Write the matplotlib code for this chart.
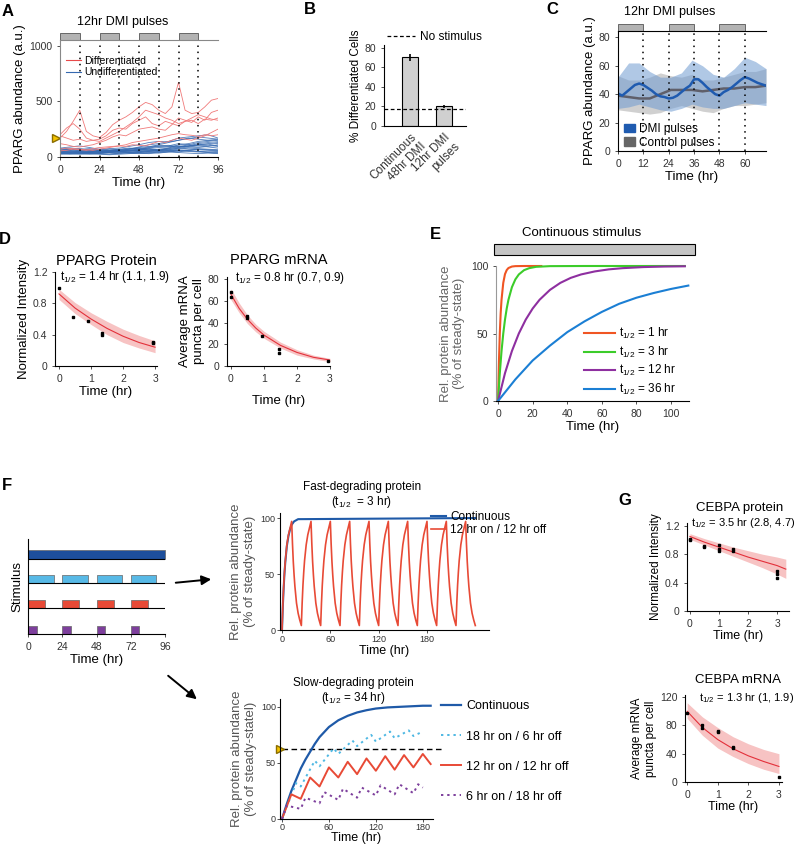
import matplotlib
matplotlib.use('Agg')
import matplotlib.pyplot as plt
from matplotlib.patches import Rectangle, FancyArrowPatch

plt.rcParams['font.family'] = ['Liberation Sans', 'DejaVu Sans']
plt.rcParams['mathtext.fontset'] = 'custom'
plt.rcParams['mathtext.rm'] = 'Liberation Sans'
plt.rcParams['axes.linewidth'] = 0.8
plt.rcParams['xtick.major.size'] = 2
plt.rcParams['ytick.major.size'] = 2

T12 = r'$\mathregular{t_{1/2}}$'

# ---- A: single-cell PPARG traces, 12hr DMI pulses ----
pulse_starts = [0, 24, 48, 72]
pulse_width = 12
a_dotted = [12, 24, 36, 48, 60, 72, 84]
a_red_t = list(range(0, 97, 4))
a_red = [
    [170, 230, 320, 420, 230, 190, 175, 220, 290, 330, 360, 400, 450, 490, 470, 420, 390, 450, 670, 420, 390, 400, 450, 510, 525],
    [190, 170, 150, 160, 140, 150, 160, 190, 240, 260, 250, 300, 330, 360, 300, 280, 320, 300, 280, 320, 330, 300, 340, 330, 350],
    [120, 110, 95, 90, 100, 110, 130, 150, 180, 200, 190, 220, 250, 260, 270, 250, 240, 290, 350, 330, 310, 360, 330, 400, 420],
    [70, 80, 75, 70, 65, 60, 70, 80, 90, 100, 110, 130, 140, 150, 160, 170, 185, 200, 210, 200, 195, 185, 200, 190, 200],
    [55, 60, 70, 65, 60, 75, 85, 90, 95, 100, 95, 110, 105, 100, 120, 140, 130, 150, 170, 160, 150, 170, 190, 220, 250],
    [200, 260, 300, 250, 170, 150, 140, 170, 200, 230, 270, 310, 360, 420, 400, 380, 350, 330, 300, 320, 350, 380, 360, 340, 330],
]
a_blue_t = list(range(0, 97, 6))
a_blue = [
    [60, 55, 50, 45, 55, 60, 70, 80, 75, 90, 110, 130, 150, 170, 160, 150, 140],
    [40, 35, 45, 40, 35, 40, 50, 60, 55, 60, 70, 80, 90, 100, 110, 120, 130],
    [70, 80, 75, 60, 50, 55, 60, 70, 90, 110, 120, 140, 170, 180, 190, 200, 170],
    [30, 25, 30, 35, 30, 25, 35, 40, 45, 40, 35, 45, 55, 60, 50, 45, 40],
    [50, 60, 70, 65, 55, 50, 45, 60, 70, 80, 95, 100, 120, 110, 100, 90, 80],
    [35, 40, 30, 25, 30, 40, 45, 35, 40, 50, 55, 50, 45, 60, 70, 65, 60],
    [80, 90, 100, 85, 70, 75, 80, 95, 110, 130, 140, 135, 150, 165, 180, 170, 160],
    [45, 50, 55, 60, 65, 55, 50, 45, 50, 55, 60, 70, 75, 70, 65, 60, 55],
    [25, 30, 35, 30, 25, 20, 25, 30, 35, 30, 40, 45, 40, 35, 30, 35, 30],
    [55, 45, 40, 50, 60, 70, 65, 55, 60, 75, 85, 90, 100, 95, 110, 115, 100],
    [40, 45, 50, 40, 35, 45, 55, 65, 70, 60, 55, 65, 80, 90, 85, 95, 110],
    [65, 70, 60, 55, 45, 40, 50, 55, 65, 85, 100, 95, 90, 110, 130, 140, 150],
    [30, 35, 40, 45, 50, 45, 40, 35, 30, 35, 45, 55, 60, 55, 50, 45, 50],
    [50, 55, 45, 35, 40, 50, 60, 70, 80, 70, 60, 75, 85, 100, 120, 130, 120],
    [35, 30, 25, 30, 40, 35, 30, 40, 50, 45, 50, 60, 55, 50, 45, 40, 35],
    [60, 65, 70, 75, 65, 60, 55, 50, 60, 70, 65, 60, 70, 80, 75, 70, 65],
    [45, 40, 35, 40, 45, 50, 55, 45, 40, 50, 60, 80, 110, 120, 140, 150, 160],
    [75, 65, 55, 50, 45, 55, 65, 75, 85, 95, 100, 105, 95, 90, 100, 105, 95],
]
a_threshold = 170

# ---- B: % differentiated ----
b_labels = ['Continuous\n48hr DMI', '12hr DMI\npulses']
b_values = [70.5, 20]
b_err = [3.5, 2]
b_no_stim = 17

# ---- C: population mean PPARG ----
c_t = list(range(0, 71, 2))
c_dmi = [40.5, 39, 41.5, 44, 46.5, 47.5, 46.5, 44.5, 42.5, 40, 38.5, 38, 37, 37.5, 39, 41.5, 44, 46,
         50.5, 50.5, 48, 45, 42.5, 40, 39, 41.5, 43, 45, 47.5, 50, 52, 51, 49.5, 48, 47, 46]
c_band_t = list(range(0, 71, 5))
c_dmi_hi = [52, 62, 62, 56, 52, 52, 55, 64, 60, 54, 52, 58, 66, 63, 58]
c_dmi_lo = [30, 31, 33, 31, 29, 28, 30, 33, 31, 30, 30, 32, 34, 33, 32]
c_ctrl = [39, 38, 37, 37, 40, 43, 43, 43, 42, 43, 44, 44, 45, 45, 46]
c_ctrl_hi = [53, 50, 50, 52, 55, 53, 52, 54, 50, 50, 52, 54, 56, 56, 58]
c_ctrl_lo = [29, 28, 27, 26, 27, 30, 32, 30, 28, 27, 30, 32, 32, 33, 34]
c_dotted = [12, 24, 36, 48, 60]

# ---- D / G: decay fits ----
dp_t = [0, 0.5, 1, 1.5, 2, 2.5, 3]
dp_fit = [0.92, 0.74, 0.60, 0.48, 0.38, 0.30, 0.24]
dp_hi = [0.98, 0.81, 0.68, 0.57, 0.47, 0.39, 0.32]
dp_lo = [0.85, 0.67, 0.53, 0.40, 0.30, 0.23, 0.17]
dp_pts_t = [0, 0.45, 0.9, 1.35, 1.35, 2.95, 2.95]
dp_pts = [1.0, 0.63, 0.57, 0.40, 0.42, 0.29, 0.31]

dm_t = [0, 0.25, 0.5, 0.75, 1, 1.5, 2, 2.5, 3]
dm_fit = [66, 53, 43, 35, 28.5, 19, 12.5, 8, 5.5]
dm_hi = [71, 58, 47, 38.5, 32, 22, 15, 10, 7]
dm_lo = [61, 49, 39, 31.5, 25.5, 16.5, 10, 6.5, 4]
dm_pts_t = [0, 0, 0.5, 0.5, 0.95, 1.45, 1.45, 2.95]
dm_pts = [68, 64, 46, 44, 28, 16, 12, 5]

gp_t = [0, 0.5, 1, 1.5, 2, 2.5, 3, 3.3]
gp_fit = [1.05, 0.97, 0.90, 0.83, 0.76, 0.70, 0.64, 0.59]
gp_hi = [1.09, 1.02, 0.96, 0.90, 0.85, 0.80, 0.76, 0.73]
gp_lo = [1.01, 0.93, 0.85, 0.77, 0.69, 0.61, 0.52, 0.46]
gp_pts_t = [0, 0, 0.5, 0.5, 1, 1, 1, 1.5, 1.5, 3, 3, 3]
gp_pts = [1.0, 1.02, 0.9, 0.92, 0.93, 0.88, 0.84, 0.87, 0.84, 0.56, 0.52, 0.46]

gm_t = [0, 0.5, 1, 1.5, 2, 2.5, 3]
gm_fit = [100, 77, 60, 47, 37, 29, 22]
gm_hi = [112, 92, 77, 64, 54, 46, 40]
gm_lo = [90, 66, 48, 36, 26, 18, 12]
gm_pts_t = [0, 0.5, 0.5, 1, 1, 1.5, 1.5, 3]
gm_pts = [98, 80, 77, 72, 70, 50, 48, 7]

# ---- E: continuous stimulus model ----
e_curves = [
    ('1 hr', '#f05523', [0, 0.5, 1, 1.5, 2, 3, 4, 5, 6, 8, 10, 15, 25],
     [0, 29, 50, 65, 75, 87.5, 94, 97, 98.5, 99.6, 99.9, 100, 100]),
    ('3 hr', '#3ccc2a', [0, 1, 2, 3, 4, 5, 6, 8, 10, 12, 15, 18, 22, 30, 50, 108],
     [0, 20.6, 37, 50, 60.3, 68.5, 75, 84.3, 90.1, 93.75, 96.9, 98.4, 99.4, 99.9, 100, 100]),
    ('12 hr', '#8e2fa0', [0, 4, 8, 12, 16, 20, 24, 30, 36, 42, 48, 56, 64, 72, 84, 96, 108],
     [0, 20.6, 37, 50, 60.3, 68.5, 75, 82.3, 87.5, 91.2, 93.75, 96, 97.5, 98.4, 99.2, 99.6, 99.8]),
    ('36 hr', '#1b7fd4', [0, 10, 20, 30, 40, 50, 60, 70, 80, 90, 100, 110],
     [0, 16, 30, 41, 51, 59, 66, 72, 76.5, 80, 83, 85.5]),
]

# ---- F: stimulus schematic ----
f_on_hours = [96, 18, 12, 6]
f_colors = ['#1d4f9c', '#58b9e6', '#e84a36', '#7d3f9c']

# fast-degrading (t1/2 = 3 hr)
fast_cont_t = [0, 1, 2, 3, 4, 6, 8, 10, 12, 15, 20, 240]
fast_cont = [0, 21, 37, 50, 60, 75, 84, 90, 94, 97, 99, 100]
fast_offsets = [0, 1, 2, 3, 4, 6, 8, 10, 12, 13, 14, 15, 16, 18, 20, 22]
fast_pulse_t = [c * 24 + o for c in range(10) for o in fast_offsets] + [240]
fast_pulse = [
    0, 22, 38, 51, 61, 76, 85, 91, 97, 77, 61, 49, 39, 24, 15, 9,
    4, 24, 40, 52, 62, 76, 85, 91, 97, 77, 61, 49, 39, 24, 15, 9,
    4, 24, 40, 52, 62, 76, 85, 91, 97, 77, 61, 49, 39, 24, 15, 9,
    4, 24, 40, 52, 62, 76, 85, 91, 97, 77, 61, 49, 39, 24, 15, 9,
    4, 24, 40, 52, 62, 76, 85, 91, 97, 77, 61, 49, 39, 24, 15, 9,
    4, 24, 40, 52, 62, 76, 85, 91, 97, 77, 61, 49, 39, 24, 15, 9,
    4, 24, 40, 52, 62, 76, 85, 91, 97, 77, 61, 49, 39, 24, 15, 9,
    4, 24, 40, 52, 62, 76, 85, 91, 97, 77, 61, 49, 39, 24, 15, 9,
    4, 24, 40, 52, 62, 76, 85, 91, 97, 77, 61, 49, 39, 24, 15, 9,
    4, 24, 40, 52, 62, 76, 85, 91, 97, 77, 61, 49, 39, 24, 15, 9,
    4,
]

# slow-degrading (t1/2 = 34 hr)
slow_cont_t = [0, 6, 12, 18, 24, 30, 36, 42, 48, 60, 72, 84, 96, 108, 120, 135, 150, 165, 180, 190]
slow_cont = [0, 13, 25, 35, 45, 53, 60, 67, 73, 82, 88, 92, 95, 97, 98.5, 99.5, 100, 100.5, 101, 101]
slow_18_t = [0, 18, 24, 42, 48, 66, 72, 90, 96, 114, 120, 138, 144, 162, 168, 180]
slow_18 = [0, 32, 29, 52, 47, 63, 58, 70, 65, 75, 69, 78, 72, 79, 74, 78]
slow_12_t = [0, 12, 24, 36, 48, 60, 72, 84, 96, 108, 120, 132, 144, 156, 168, 180, 190]
slow_12 = [0, 22, 18, 37, 29, 46, 37, 51, 40, 54, 43, 56, 44, 57, 46, 58, 49]
slow_6_t = [0, 6, 24, 30, 48, 54, 72, 78, 96, 102, 120, 126, 144, 150, 168, 174, 180]
slow_6 = [0, 12, 9, 19, 14, 24, 17, 27, 19, 28, 21, 30, 22, 31, 23, 31, 28]
slow_threshold = 62

W, H = 800, 848
fig = plt.figure(figsize=(8, 8.48), dpi=100)


def fx(x):
    return x / W


def fy(y):
    return 1 - y / H


def px_axes(x0, y0, x1, y1):
    return fig.add_axes([fx(x0), fy(y1), (x1 - x0) / W, (y1 - y0) / H])


def clean(ax, top=False, left_color='black'):
    ax.spines['right'].set_visible(False)
    ax.spines['top'].set_visible(top)
    ax.spines['left'].set_color(left_color)
    ax.tick_params(labelsize=7.5, colors='#333333', width=0.6)


def pulses(ax, h_px, gap_px=0.5, bar_px=6.5, color='#b3b3b3'):
    for s in pulse_starts:
        if s >= ax.get_xlim()[1]:
            continue
        ax.add_patch(Rectangle((s, 1 + gap_px / h_px), pulse_width, bar_px / h_px,
                               transform=ax.get_xaxis_transform(), clip_on=False,
                               facecolor=color, edgecolor='#555555', lw=0.6))


def label(x, y, s):
    fig.text(fx(x), fy(y), s, fontsize=12, weight='bold', ha='center', va='center')


# ---------------- A ----------------
axA = px_axes(60, 40, 218, 157)
clean(axA, top=True, left_color='#888888')
axA.spines['top'].set_color('#888888')
for tr in a_blue:
    axA.plot(a_blue_t, tr, color='#3569b0', lw=0.6, alpha=0.85)
for tr in a_red:
    axA.plot(a_red_t, tr, color='#f07a7a', lw=0.6)
axA.vlines(a_dotted, 0, 1050, colors='black', linestyles=(0, (1, 3)), lw=1.1)
axA.set_xlim(0, 96)
axA.set_ylim(0, 1050)
axA.set_xticks([0, 24, 48, 72, 96])
axA.set_yticks([0, 500, 1000])
axA.plot([-2.6], [a_threshold], marker='>', color='#f5c400', mec='#8a6d00', ms=6, clip_on=False)
axA.plot([], [], color='#e84a4a', lw=0.8, label='Differentiated')
axA.plot([], [], color='#3569b0', lw=0.8, label='Undifferentiated')
axA.legend(loc='upper left', bbox_to_anchor=(0.0, 0.92), frameon=False, fontsize=7.5,
           handlelength=1.4, handletextpad=0.3, labelspacing=0.15, borderaxespad=0.2)
axA.set_xlabel('Time (hr)', fontsize=9.5, labelpad=2)
axA.set_ylabel('PPARG abundance (a.u.)', fontsize=9.5, labelpad=2)
pulses(axA, 117)
fig.text(fx(123), fy(22), '12hr DMI pulses', fontsize=9, ha='center', va='center')
label(8, 11, 'A')

# ---------------- B ----------------
axB = px_axes(384, 45, 466, 126)
clean(axB)
axB.bar([0, 1], b_values, width=0.45, color='#d0d0d0', edgecolor='black', lw=0.8)
axB.errorbar([0, 1], b_values, yerr=b_err, fmt='none', ecolor='black', elinewidth=1.2, capsize=0)
axB.axhline(b_no_stim, color='black', ls=(0, (3, 2)), lw=0.9, label='No stimulus')
axB.set_xlim(-0.77, 1.65)
axB.set_ylim(0, 83)
axB.set_yticks([0, 20, 40, 60, 80])
axB.set_xticks([0, 1])
axB.set_xticklabels(b_labels, rotation=45, ha='right', rotation_mode='anchor', fontsize=8.5)
axB.tick_params(axis='x', length=0)
axB.set_ylabel('% Differentiated Cells', fontsize=8.5, labelpad=2)
axB.legend(loc='center left', bbox_to_anchor=(-0.02, 1.1), frameon=False, fontsize=8.5,
           handlelength=2.4, handletextpad=0.4, borderaxespad=0)
label(310, 10, 'B')

# ---------------- C ----------------
axC = px_axes(618, 31, 766, 151)
clean(axC, top=True)
axC.fill_between(c_band_t, c_ctrl_lo, c_ctrl_hi, color='#b8b8b8', alpha=0.65, lw=0)
axC.fill_between(c_band_t, c_dmi_lo, c_dmi_hi, color='#6f9bd1', alpha=0.55, lw=0)
axC.plot(c_band_t, c_ctrl, color='#5f5f6a', lw=1.8)
axC.plot(c_t, c_dmi, color='#1f5bb0', lw=1.8)
axC.vlines(c_dotted, 0, 85, colors='black', linestyles=(0, (1, 3)), lw=1.1)
axC.set_xlim(0, 70)
axC.set_ylim(0, 84.5)
axC.set_xticks([0, 12, 24, 36, 48, 60])
axC.set_yticks([0, 20, 40, 60, 80])
axC.fill_between([], [], [], color='#1f5bb0', label='DMI pulses')
axC.fill_between([], [], [], color='#666666', label='Control pulses')
axC.legend(loc='lower left', bbox_to_anchor=(0.0, -0.03), frameon=False, fontsize=8.5,
           handlelength=0.9, handleheight=0.7, handletextpad=0.4, labelspacing=0.15,
           borderaxespad=0.1)
axC.set_xlabel('Time (hr)', fontsize=9.5, labelpad=2)
axC.set_ylabel('PPARG abundance (a.u.)', fontsize=9.5, labelpad=2)
pulses(axC, 120)
fig.text(fx(670), fy(12), '12hr DMI pulses', fontsize=9, ha='center', va='center')
label(552, 10, 'C')


def decay(ax, t, fit, lo, hi, pt_t, pts):
    ax.fill_between(t, lo, hi, color='#f7c3c3', lw=0)
    ax.plot(t, fit, color='#e3303a', lw=0.8)
    ax.plot(pt_t, pts, 's', color='black', ms=1.8)


# ---------------- D ----------------
axD1 = px_axes(55, 272, 157, 366)
clean(axD1)
decay(axD1, dp_t, dp_fit, dp_lo, dp_hi, dp_pts_t, dp_pts)
axD1.set_xlim(-0.125, 3.06)
axD1.set_ylim(0, 1.2)
axD1.set_xticks([0, 1, 2, 3])
axD1.set_yticks([0, 0.4, 0.8, 1.2])
axD1.set_yticklabels(['0', '0.4', '0.8', '1.2'])
axD1.set_xlabel('Time (hr)', fontsize=9.5, labelpad=2)
axD1.set_ylabel('Normalized Intensity', fontsize=9.5, labelpad=2)
axD1.set_title('PPARG Protein', fontsize=10.5, pad=5)
axD1.text(0.05, 0.95, T12 + ' = 1.4 hr (1.1, 1.9)', transform=axD1.transAxes, fontsize=8.5, va='center')

axD2 = px_axes(227, 277, 330, 366)
clean(axD2)
decay(axD2, dm_t, dm_fit, dm_lo, dm_hi, dm_pts_t, dm_pts)
axD2.set_xlim(-0.12, 3.0)
axD2.set_ylim(0, 82)
axD2.set_xticks([0, 1, 2, 3])
axD2.set_yticks([0, 20, 40, 60, 80])
axD2.set_xlabel('Time (hr)', fontsize=9.5, labelpad=8)
axD2.set_ylabel('Average mRNA\npuncta per cell', fontsize=9.5, labelpad=2)
axD2.set_title('PPARG mRNA', fontsize=10.5, pad=9)
axD2.text(0.08, 0.99, T12 + ' = 0.8 hr (0.7, 0.9)', transform=axD2.transAxes, fontsize=8.5, va='center')
label(5, 239, 'D')

# ---------------- E ----------------
axE = px_axes(496, 266, 689, 401)
clean(axE, left_color='#999999')
for name, col, t, v in e_curves:
    axE.plot(t, v, color=col, lw=1.5, clip_on=False, label=T12 + ' = ' + name)
axE.set_xlim(-1.2, 110.4)
axE.set_ylim(0, 100)
axE.set_xticks([0, 20, 40, 60, 80, 100])
axE.set_yticks([0, 50, 100])
axE.legend(loc='lower right', bbox_to_anchor=(0.99, -0.05), frameon=False, fontsize=8.5,
           handlelength=2.6, handletextpad=0.4, labelspacing=0.3)
axE.set_xlabel('Time (hr)', fontsize=9.5, labelpad=2)
axE.set_ylabel('Rel. protein abundance\n(% of steady-state)', fontsize=9.5, color='#666666', labelpad=4)
fig.add_artist(Rectangle((fx(494), fy(255)), 201 / W, 11 / H, transform=fig.transFigure,
                         facecolor='#c4c4c4', edgecolor='black', lw=0.8))
fig.text(fx(582), fy(233), 'Continuous stimulus', fontsize=9.5, ha='center', va='center')
label(435, 235, 'E')

# ---------------- F schematic ----------------
axS = px_axes(28, 539, 165, 634)
axS.spines['right'].set_visible(False)
axS.spines['top'].set_visible(False)
row_base = [75, 51, 26, 0]
for on, col, base in zip(f_on_hours, f_colors, row_base):
    if base > 0:
        axS.axhline(base, color='black', lw=0.8)
    spans = [(s, on) for s in pulse_starts] if on < 24 else [(0, on)]
    axS.broken_barh(spans, (base, 8.5), facecolors=col, edgecolors='#666666', lw=0.5)
axS.set_xlim(0, 96)
axS.set_ylim(0, 95)
axS.set_yticks([])
axS.set_xticks([0, 24, 48, 72, 96])
axS.tick_params(labelsize=7.5, width=0.6, colors='#333333')
axS.set_xlabel('Time (hr)', fontsize=9.5, labelpad=2)
axS.set_ylabel('Stimulus', fontsize=9.5, labelpad=3)
label(7, 485, 'F')
fig.add_artist(FancyArrowPatch((fx(173), fy(583)), (fx(214), fy(579)), transform=fig.transFigure,
                               arrowstyle='-|>', mutation_scale=14, lw=1.4, color='black'))
fig.add_artist(FancyArrowPatch((fx(166), fy(674)), (fx(199), fy(701)), transform=fig.transFigure,
                               arrowstyle='-|>', mutation_scale=14, lw=1.4, color='black'))

# ---------------- F fast ----------------
axF1 = px_axes(280, 513, 489, 630)
clean(axF1)
axF1.tick_params(labelsize=6.5, pad=1.5)
axF1.plot(fast_cont_t, fast_cont, color='#1f5aa8', lw=1.5, label='Continuous')
axF1.plot(fast_pulse_t, fast_pulse, color='#e84a36', lw=1.2, label='12 hr on / 12 hr off')
axF1.set_xlim(-2.5, 257)
axF1.set_ylim(0, 104.5)
axF1.set_xticks([0, 60, 120, 180])
axF1.set_yticks([0, 50, 100])
axF1.legend(loc='upper left', bbox_to_anchor=(0.70, 1.06), frameon=False, fontsize=8.5,
            handlelength=1.3, handletextpad=0.3, labelspacing=0.15, borderaxespad=0)
axF1.set_xlabel('Time (hr)', fontsize=9, labelpad=1)
axF1.set_ylabel('Rel. protein abundance\n(% of steady-state)', fontsize=9.5, color='#555555', labelpad=3)
fig.text(fx(362), fy(487), 'Fast-degrading protein', fontsize=8.5, ha='center', va='center')
fig.text(fx(362), fy(502), '(' + T12 + '  = 3 hr)', fontsize=8.5, ha='center', va='center')

# ---------------- F slow ----------------
axF2 = px_axes(280, 699, 433, 819)
clean(axF2)
axF2.tick_params(labelsize=6.5, pad=1)
axF2.plot([0, 205], [slow_threshold, slow_threshold], color='black', ls=(0, (4, 2.5)), lw=1.0, clip_on=False)
axF2.plot(slow_cont_t, slow_cont, color='#1f5aa8', lw=1.6, label='Continuous', clip_on=False)
axF2.plot(slow_18_t, slow_18, color='#4fb8e3', lw=1.4, ls=(0, (1.2, 2)), label='18 hr on / 6 hr off')
axF2.plot(slow_12_t, slow_12, color='#e84a36', lw=1.4, label='12 hr on / 12 hr off')
axF2.plot(slow_6_t, slow_6, color='#7d3f9c', lw=1.4, ls=(0, (1.2, 2)), label='6 hr on / 18 hr off')
axF2.plot([-2.5], [slow_threshold], marker='>', color='#f5c400', mec='#8a6d00', ms=6, clip_on=False)
axF2.set_xlim(-2.5, 193)
axF2.set_ylim(0, 107)
axF2.set_xticks([0, 60, 120, 180])
axF2.set_yticks([0, 50, 100])
axF2.legend(loc='upper left', bbox_to_anchor=(1.02, 1.03), frameon=False, fontsize=9,
            handlelength=1.6, handletextpad=0.4, labelspacing=1.45, borderaxespad=0)
axF2.set_xlabel('Time (hr)', fontsize=9, labelpad=0)
axF2.set_ylabel('Rel. protein abundance\n(% of steady-statel)', fontsize=9.5, color='#555555', labelpad=3)
fig.text(fx(353), fy(683), 'Slow-degrading protein', fontsize=8.5, ha='center', va='center')
fig.text(fx(353), fy(698), '(' + T12 + ' = 34 hr)', fontsize=8.5, ha='center', va='center')

# ---------------- G ----------------
axG1 = px_axes(687, 523, 789, 611)
clean(axG1)
decay(axG1, gp_t, gp_fit, gp_lo, gp_hi, gp_pts_t, gp_pts)
axG1.set_xlim(-0.1, 3.41)
axG1.set_ylim(0, 1.24)
axG1.set_xticks([0, 1, 2, 3])
axG1.set_yticks([0, 0.4, 0.8, 1.2])
axG1.set_yticklabels(['0', '0.4', '0.8', '1.2'])
axG1.set_xlabel('Time (hr)', fontsize=9, labelpad=1)
axG1.set_ylabel('Normalized Intensity', fontsize=8.5, labelpad=2)
axG1.text(0.04, 1.0, T12 + ' = 3.5 hr (2.8, 4.7)', transform=axG1.transAxes, fontsize=8, va='center')
fig.text(fx(740), fy(508), 'CEBPA protein', fontsize=9.5, ha='center', va='center')
label(625, 500, 'G')

axG2 = px_axes(685, 695, 782, 782)
clean(axG2)
decay(axG2, gm_t, gm_fit, gm_lo, gm_hi, gm_pts_t, gm_pts)
axG2.set_xlim(-0.07, 3.1)
axG2.set_ylim(0, 123)
axG2.set_xticks([0, 1, 2, 3])
axG2.set_yticks([0, 40, 80, 120])
axG2.set_xlabel('Time (hr)', fontsize=9, labelpad=1)
axG2.set_ylabel('Average mRNA\npuncta per cell', fontsize=8.5, labelpad=2)
axG2.text(0.14, 0.97, T12 + ' = 1.3 hr (1, 1.9)', transform=axG2.transAxes, fontsize=8, va='center')
fig.text(fx(738), fy(680), 'CEBPA mRNA', fontsize=9.5, ha='center', va='center')

fig.savefig('out.png', dpi=100)
